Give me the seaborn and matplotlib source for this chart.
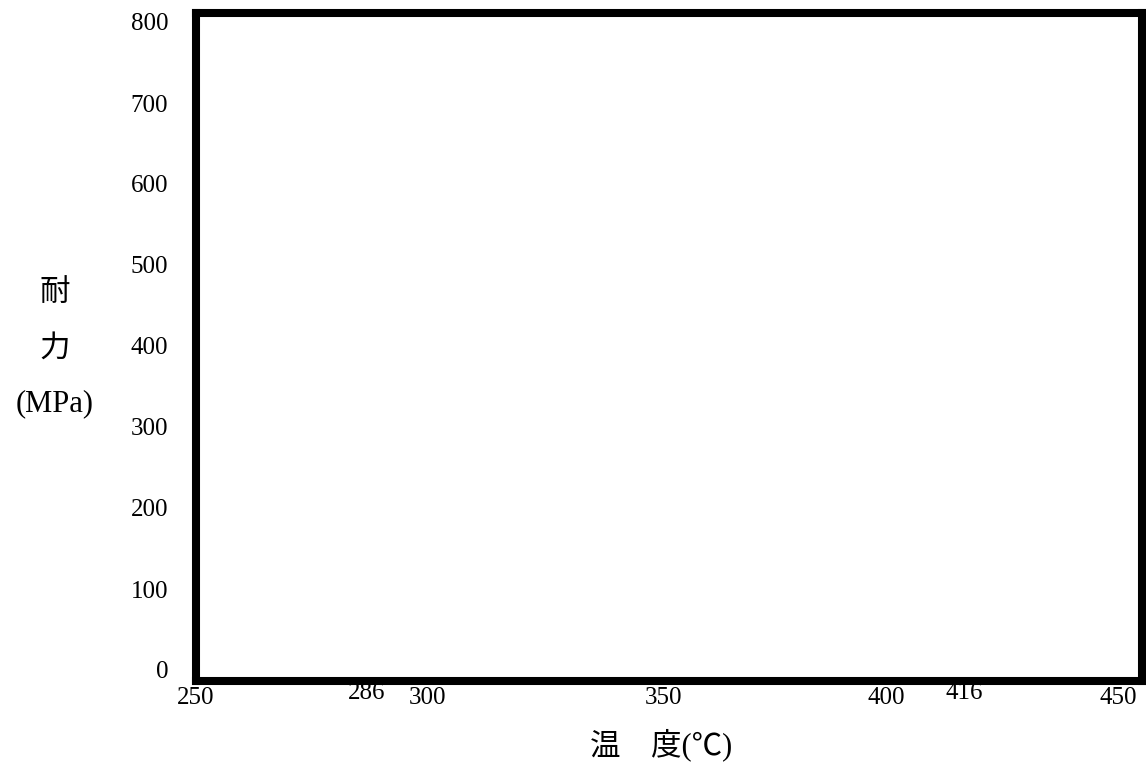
import matplotlib
matplotlib.use('Agg')
import matplotlib.pyplot as plt
import matplotlib.transforms as mtransforms
import seaborn as sns

# Axis data (empty strength-vs-temperature chart)
x_ticks = [250, 286, 300, 350, 400, 416, 450]
y_ticks = [0, 100, 200, 300, 400, 500, 600, 700, 800]
x_range = (250, 450)
y_range = (0, 800)
x_title = '温\u3000度(℃)'
y_title = '耐\n力\n(MPa)'

sns.set_theme(style='white')
plt.rcParams['font.family'] = ['Liberation Serif', 'Noto Sans CJK JP', 'DejaVu Sans']

fig = plt.figure(figsize=(11.46, 7.71), dpi=100)
ax = fig.add_axes([196 / 1146, 1 - 681 / 771, 946 / 1146, 668.5 / 771])

ax.set_xlim(*x_range)
ax.set_ylim(*y_range)
ax.set_xticks(x_ticks)
ax.set_yticks(y_ticks)
ax.set_xticklabels([str(v) for v in x_ticks], fontsize=18)
ax.set_yticklabels([str(v) for v in y_ticks], fontsize=18)
ax.tick_params(axis='both', length=0, colors='black')
ax.tick_params(axis='x', pad=4)
ax.tick_params(axis='y', pad=20)

for side in ax.spines.values():
    side.set_visible(True)
    side.set_color('black')
    side.set_linewidth(5.8)

# nudge tick labels the way the original drawing has them (pixel offsets)
x_dx = [0, 0, -5, -6, -19, -17, -24]
x_dy = [0, 5, 0, 0, 0, 5, 0]
for lab, dx, dy in zip(ax.get_xticklabels(), x_dx, x_dy):
    lab.set_transform(lab.get_transform() + mtransforms.Affine2D().translate(dx, dy))
for lab, v in zip(ax.get_yticklabels(), y_ticks):
    dy = 11 - v * 20.5 / 800
    lab.set_transform(lab.get_transform() + mtransforms.Affine2D().translate(0, dy))

ax.set_xlabel(x_title, fontsize=22, color='black')
ax.xaxis.set_label_coords(0.4915, -0.0957)
ax.xaxis.label.set_va('center')

ax.set_ylabel(y_title, fontsize=22, rotation=0, color='black', linespacing=2.2)
ax.yaxis.set_label_coords(-0.149, 0.497)
ax.yaxis.label.set_va('center')
ax.yaxis.label.set_ha('center')

fig.savefig('out.png', dpi=100, facecolor='white')
plt.close(fig)
